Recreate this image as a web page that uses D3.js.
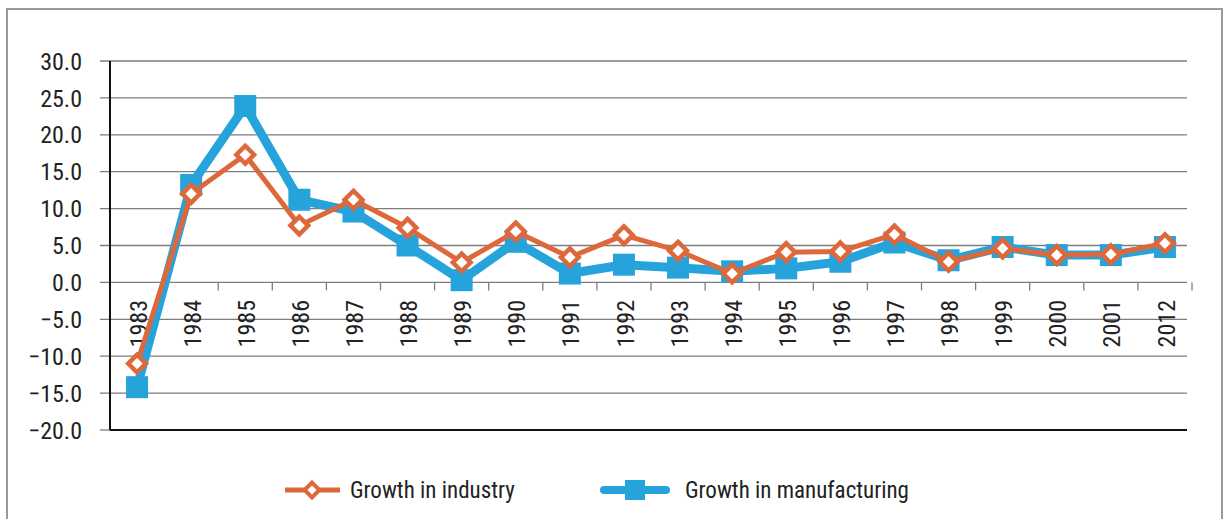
<!DOCTYPE html>
<html><head><meta charset="utf-8">
<script src="https://cdn.jsdelivr.net/npm/d3@7"></script>
<style>
html,body{margin:0;padding:0;background:#fff;}
svg text{font-family:"Liberation Sans Narrow","Arial Narrow","Roboto Condensed",sans-serif;fill:#222;}
</style></head><body>
<svg id="c" width="1226" height="519"></svg>
<script>
const years = ["1983","1984","1985","1986","1987","1988","1989","1990","1991","1992","1993","1994","1995","1996","1997","1998","1999","2000","2001","2012"];
const industry = [-11.0,12.0,17.3,7.7,11.2,7.4,2.7,6.9,3.4,6.4,4.3,1.2,4.1,4.2,6.5,2.8,4.6,3.7,3.8,5.3];
const manufacturing = [-14.2,13.2,23.9,11.2,9.6,5.0,0.3,5.5,1.2,2.4,2.0,1.5,1.9,2.8,5.4,3.0,4.8,3.7,3.7,4.8];
const yTicks = [30,25,20,15,10,5,0,-5,-10,-15,-20];
const seriesNames = ["Growth in industry","Growth in manufacturing"];

const ORANGE = "#dd683c", BLUE = "#27a3dc";
const svg = d3.select("#c");
const L = 110, R = 1192, T = 61, B = 430;

// frame
svg.append("rect").attr("x",7).attr("y",9).attr("width",1215).attr("height",530)
  .attr("fill","none").attr("stroke","#9a9a9a").attr("stroke-width",2);

const x = d3.scaleBand().domain(years).range([L, R]).paddingInner(0).paddingOuter(0);
const y = d3.scaleLinear().domain([-20,30]).range([B, T]);

// gridlines
const g = svg.append("g");
g.selectAll("line.grid").data(yTicks.filter(v => v > -20)).join("line")
  .attr("x1", 100).attr("x2", 1187).attr("y1", d => y(d)).attr("y2", d => y(d))
  .attr("stroke","#7d7d7d").attr("stroke-width",1.3);
g.append("line").attr("x1",100).attr("x2",L).attr("y1",y(-20)).attr("y2",y(-20)).attr("stroke","#7d7d7d").attr("stroke-width",1.3);

// y labels
g.selectAll("text.yl").data(yTicks).join("text")
  .attr("x", 82).attr("y", d => y(d)).attr("dy","0.36em").attr("text-anchor","end")
  .attr("font-size",24).text(d => (d < 0 ? "\u2212" + Math.abs(d).toFixed(1) : d.toFixed(1)));

// x ticks at band boundaries on zero line
const bounds = years.map((d,i) => x(d) + x.bandwidth());
g.selectAll("line.xt").data(bounds).join("line")
  .attr("x1", d => d).attr("x2", d => d).attr("y1", y(0)).attr("y2", y(0) + 8)
  .attr("stroke","#7d7d7d").attr("stroke-width",1.3);

// axes lines
g.append("line").attr("x1",L).attr("x2",1187).attr("y1",y(-20)).attr("y2",y(-20)).attr("stroke","#111").attr("stroke-width",2);
g.append("line").attr("x1",L).attr("x2",L).attr("y1",y(30)).attr("y2",y(-20)).attr("stroke","#111").attr("stroke-width",2);

// x labels
g.selectAll("text.xl").data(years).join("text")
  .attr("transform", d => `translate(${x(d) + x.bandwidth()/2 + 1},300) rotate(-90)`)
  .attr("text-anchor","end").attr("dy","0.36em").attr("font-size",24).text(d => d);

const cx = d => x(d) + x.bandwidth()/2;

// manufacturing series
const mData = years.map((d,i) => [cx(d), y(manufacturing[i])]);
svg.append("path").attr("d", d3.line()(mData)).attr("fill","none")
  .attr("stroke",BLUE).attr("stroke-width",9).attr("stroke-linejoin","round");
svg.selectAll("rect.m").data(mData).join("rect")
  .attr("x", d => d[0]-11).attr("y", d => d[1]-11).attr("width",22).attr("height",22).attr("fill",BLUE);

// industry series
const iData = years.map((d,i) => [cx(d), y(industry[i])]);
svg.append("path").attr("d", d3.line()(iData)).attr("fill","none")
  .attr("stroke",ORANGE).attr("stroke-width",5).attr("stroke-linejoin","round");
const diamond = d3.symbol().type(d3.symbolDiamond2).size(200);
svg.selectAll("path.i").data(iData).join("path")
  .attr("d", diamond).attr("transform", d => `translate(${d[0]},${d[1]})`)
  .attr("fill","#fff").attr("stroke",ORANGE).attr("stroke-width",4.5);

// legend
const lg = svg.append("g");
lg.append("line").attr("x1",285).attr("x2",340).attr("y1",490).attr("y2",490)
  .attr("stroke",ORANGE).attr("stroke-width",5);
lg.append("path").attr("d", d3.symbol().type(d3.symbolDiamond2).size(140)())
  .attr("transform","translate(312,490)").attr("fill","#fff").attr("stroke",ORANGE).attr("stroke-width",4);
lg.append("text").attr("x",350).attr("y",490).attr("dy","0.36em").attr("font-size",23).text(seriesNames[0]);
lg.append("line").attr("x1",604).attr("x2",666).attr("y1",490).attr("y2",490)
  .attr("stroke",BLUE).attr("stroke-width",8).attr("stroke-linecap","round");
lg.append("rect").attr("x",625).attr("y",480).attr("width",20).attr("height",20).attr("fill",BLUE);
lg.append("text").attr("x",685).attr("y",490).attr("dy","0.36em").attr("font-size",23).text(seriesNames[1]);
</script></body></html>
